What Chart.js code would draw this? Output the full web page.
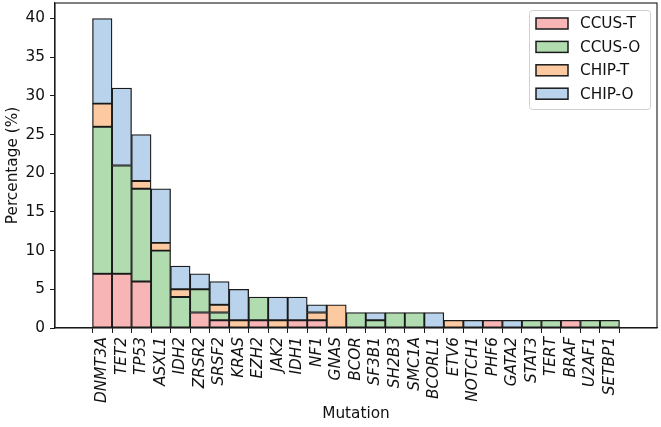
<!DOCTYPE html>
<html>
<head>
<meta charset="utf-8">
<script src="https://cdn.jsdelivr.net/npm/chart.js@4/dist/chart.umd.min.js"></script>
<style>
html,body{margin:0;padding:0;background:#fff;}
#wrap{width:661px;height:427px;position:relative;}
</style>
</head>
<body>
<div id="wrap"><canvas id="c" width="661" height="427"></canvas></div>
<script>
const mutations = ["DNMT3A","TET2","TP53","ASXL1","IDH2","ZRSR2","SRSF2","KRAS","EZH2","JAK2","IDH1","NF1","GNAS","BCOR","SF3B1","SH2B3","SMC1A","BCORL1","ETV6","NOTCH1","PHF6","GATA2","STAT3","TERT","BRAF","U2AF1","SETBP1"];
const ccusT = [7,7,6,0,0,2,1,0,1,0,1,1,0,0,0,0,0,0,0,0,1,0,0,0,1,0,0];
const ccusO = [19,14,12,10,4,3,1,0,3,0,0,0,0,2,1,2,2,0,0,0,0,0,1,1,0,1,1];
const chipT = [3,0,1,1,1,0,1,1,0,1,0,1,3,0,0,0,0,0,1,0,0,0,0,0,0,0,0];
const chipO = [11,10,6,7,3,2,3,4,0,3,3,1,0,0,1,0,0,2,0,1,0,1,0,0,0,0,0];
const seriesNames = ["CCUS-T","CCUS-O","CHIP-T","CHIP-O"];
const yTicks = [0,5,10,15,20,25,30,35,40];

const FONT = "'DejaVu Sans', sans-serif";
const FS = 15.3;
const EDGE = '#1a1a1a';
const colors = ['#f7b5b6','#b0dcb0','#fcc9a1','#b9d3ec'];
const seriesData = [ccusT, ccusO, chipT, chipO];

const datasets = seriesData.map((arr, k) => ({
  label: seriesNames[k],
  data: arr.map((v, i) => ({x: i, y: v === 0 ? null : v})),
  backgroundColor: colors[k],
  borderColor: EDGE,
  borderWidth: 1.3,
  borderSkipped: false,
  barPercentage: 1,
  categoryPercentage: 1
}));

const framePlugin = {
  id: 'frame',
  afterDatasetsDraw(chart) {
    const {ctx, chartArea: a} = chart;
    ctx.save();
    ctx.strokeStyle = EDGE;
    ctx.lineWidth = 1.1;
    ctx.strokeRect(a.left, a.top, a.right - a.left, a.bottom - a.top);
    ctx.restore();
  }
};

const legendPlugin = {
  id: 'insideLegend',
  afterDraw(chart) {
    const {ctx, chartArea: a} = chart;
    const boxW = 121, boxH = 99;
    const x0 = a.right - 7 - boxW, y0 = 10;
    ctx.save();
    ctx.fillStyle = 'rgba(255,255,255,0.85)';
    ctx.strokeStyle = '#d0d0d0';
    ctx.lineWidth = 1;
    ctx.beginPath();
    ctx.roundRect(x0 + 0.5, y0 + 0.5, boxW, boxH, 3);
    ctx.fill();
    ctx.stroke();
    ctx.font = FS + 'px ' + FONT;
    ctx.textBaseline = 'middle';
    chart.data.datasets.forEach((ds, k) => {
      const cy = y0 + 13.5 + k * 23.4;
      ctx.fillStyle = ds.backgroundColor;
      ctx.fillRect(x0 + 7, cy - 5.5, 32, 11);
      ctx.strokeStyle = EDGE;
      ctx.lineWidth = 1.5;
      ctx.strokeRect(x0 + 7, cy - 5.5, 32, 11);
      ctx.fillStyle = '#111';
      ctx.fillText(ds.label, x0 + 51, cy + 1);
    });
    ctx.restore();
  }
};

function noPad(s) { s.paddingTop = 0; s.paddingBottom = 0; s.paddingLeft = 0; s.paddingRight = 0; }

new Chart(document.getElementById('c'), {
  type: 'bar',
  data: {datasets},
  options: {
    responsive: false,
    animation: false,
    devicePixelRatio: 1,
    layout: {padding: {top: 3, right: 4, left: 0, bottom: 0}},
    plugins: {legend: {display: false}, tooltip: {enabled: false}},
    scales: {
      x: {
        type: 'linear',
        stacked: true,
        min: -1.85,
        max: 27.85,
        afterBuildTicks: s => { s.ticks = mutations.map((_, i) => ({value: i})); },
        afterFit: s => { s.height = 99; noPad(s); },
        grid: {display: true, drawOnChartArea: false, drawTicks: true, tickLength: 5, color: EDGE, lineWidth: 1},
        border: {display: true, color: EDGE, width: 1.1},
        ticks: {
          autoSkip: false,
          minRotation: 90,
          maxRotation: 90,
          padding: 4,
          color: '#111',
          font: {family: FONT, size: FS, style: 'italic'},
          callback: v => mutations[Math.round(v)] || ''
        },
        title: {display: true, text: 'Mutation', color: '#111', font: {family: FONT, size: FS}, padding: {top: 0, bottom: 4}}
      },
      y: {
        type: 'linear',
        stacked: true,
        min: 0,
        max: 42,
        afterBuildTicks: s => { s.ticks = yTicks.map(v => ({value: v})); },
        afterFit: s => { s.width = 55; noPad(s); },
        grid: {display: true, drawOnChartArea: false, drawTicks: true, tickLength: 5, color: EDGE, lineWidth: 1},
        border: {display: true, color: EDGE, width: 1.1},
        ticks: {padding: 5, color: '#111', font: {family: FONT, size: FS}},
        title: {display: true, text: 'Percentage (%)', color: '#111', font: {family: FONT, size: FS}, padding: {top: 4, bottom: 0}}
      }
    }
  },
  plugins: [framePlugin, legendPlugin]
});
</script>
</body>
</html>
